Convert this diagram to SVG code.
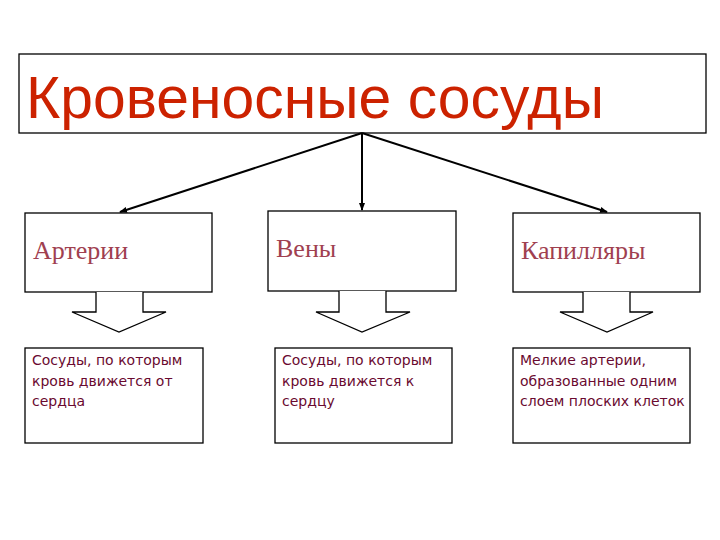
<svg xmlns="http://www.w3.org/2000/svg" width="720" height="540" viewBox="0 0 720 540">
<style>
.b{fill:#fff;stroke:#000;stroke-width:1.3}
.h{font-family:"Liberation Serif",serif;font-size:26px;fill:#a04050}
.d{font-family:"DejaVu Sans","Liberation Sans",sans-serif;font-size:14px;fill:#6a0a30}
.c{stroke:#000;stroke-width:2;fill:none;marker-end:url(#a)}
</style>
<defs><marker id="a" markerWidth="8" markerHeight="8" refX="7" refY="4" orient="auto" markerUnits="userSpaceOnUse"><path d="M0,1 L8,4 L0,7 Z" fill="#000"/></marker></defs>
<rect width="720" height="540" fill="#fff"/>
<g id="title"><rect class="b" x="19" y="54" width="687" height="79"/>
<text x="26" y="118" font-family="Liberation Sans,sans-serif" font-size="60" fill="#cc2200" textLength="578" lengthAdjust="spacingAndGlyphs">Кровеносные сосуды</text></g>
<g id="connectors">
<line class="c" x1="362" y1="133" x2="120" y2="212"/>
<line class="c" x1="362" y1="133" x2="362" y2="210"/>
<line class="c" x1="362" y1="133" x2="607" y2="212"/>
</g>
<g id="arteries"><rect class="b" x="25" y="213" width="187" height="79"/><text class="h" x="33" y="259">Артерии</text>
<path class="b" d="M96,292 V312 H72 L119,332 L166,312 H143 V292"/></g>
<g id="veins"><rect class="b" x="268" y="211" width="188" height="80"/><text class="h" x="276" y="257">Вены</text>
<path class="b" d="M339,291 V312 H316 L362,332 L410,312 H386 V291"/></g>
<g id="capillaries"><rect class="b" x="513" y="213" width="187" height="79"/><text class="h" x="521" y="259">Капилляры</text>
<path class="b" d="M583,292 V312 H560 L607,332 L653,312 H630 V292"/></g>
<g id="arteries-desc"><rect class="b" x="25" y="348" width="178" height="95"/>
<text class="d"><tspan x="32" y="365">Сосуды, по которым</tspan><tspan x="32" y="386">кровь движется от</tspan><tspan x="32" y="406">сердца</tspan></text></g>
<g id="veins-desc"><rect class="b" x="275" y="348" width="177" height="95"/>
<text class="d"><tspan x="282" y="365">Сосуды, по которым</tspan><tspan x="282" y="386">кровь движется к</tspan><tspan x="282" y="406">сердцу</tspan></text></g>
<g id="capillaries-desc"><rect class="b" x="513" y="348" width="177" height="95"/>
<text class="d"><tspan x="520" y="365">Мелкие артерии,</tspan><tspan x="520" y="386">образованные одним</tspan><tspan x="520" y="406">слоем плоских клеток</tspan></text></g>
</svg>
